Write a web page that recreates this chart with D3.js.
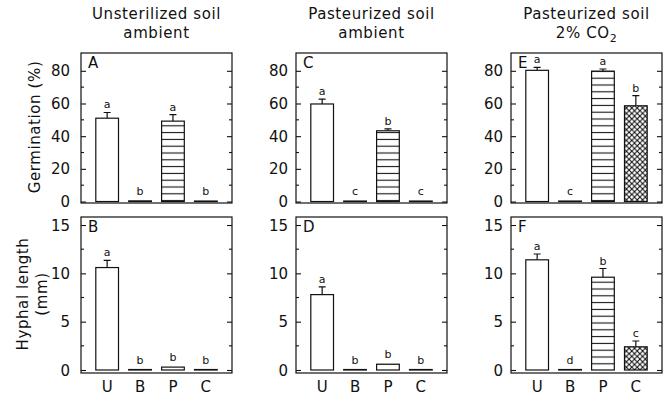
<!DOCTYPE html>
<html>
<head>
<meta charset="utf-8">
<script src="https://cdn.jsdelivr.net/npm/d3@7"></script>
<style>
  body { margin: 0; background: #fff; }
  svg text { font-family: "DejaVu Sans", sans-serif; fill: #111; }
</style>
</head>
<body>
<div id="chart"></div>
<script>
// treatments along the x axis
var treatments = ["U", "B", "P", "C"];

// germination (%) panels A, C, E
var germA = [51, 0.4, 49.2, 0.3], germAErr = [3.5, 0, 4, 0];
var germC = [59.7, 0.3, 43.3, 0.3], germCErr = [3, 0, 1.2, 0];
var germE = [80.3, 0.3, 79.8, 58.6], germEErr = [1.8, 0, 1.3, 6.2];
var germALetters = ["a", "b", "a", "b"];
var germCLetters = ["a", "c", "b", "c"];
var germELetters = ["a", "c", "a", "b"];

// hyphal length (mm) panels B, D, F
var hyphB = [10.6, 0.05, 0.3, 0.05], hyphBErr = [0.75, 0, 0, 0];
var hyphD = [7.8, 0.05, 0.6, 0.05], hyphDErr = [0.8, 0, 0, 0];
var hyphF = [11.4, 0.05, 9.6, 2.4], hyphFErr = [0.6, 0, 0.9, 0.6];
var hyphBLetters = ["a", "b", "b", "b"];
var hyphDLetters = ["a", "b", "b", "b"];
var hyphFLetters = ["a", "d", "b", "c"];

var germTicks = [0, 20, 40, 60, 80], germMinor = [10, 30, 50, 70];
var hyphTicks = [0, 5, 10, 15], hyphMinor = [2.5, 7.5, 12.5];

var titles = [["Unsterilized soil", "ambient"], ["Pasteurized soil", "ambient"], ["Pasteurized soil", "2% CO2"]];
var panelIds = [["A", "C", "E"], ["B", "D", "F"]];

var W = 672, H = 401;
var svg = d3.select("#chart").append("svg").attr("width", W).attr("height", H);

// fill patterns
var defs = svg.append("defs");
var stripes = defs.append("pattern").attr("id", "stripes")
  .attr("patternUnits", "userSpaceOnUse").attr("width", 8).attr("height", 6.8);
stripes.append("rect").attr("width", 8).attr("height", 6.8).attr("fill", "#fff");
stripes.append("line").attr("x1", 0).attr("x2", 8).attr("y1", 3.4).attr("y2", 3.4)
  .attr("stroke", "#111").attr("stroke-width", 1.1);

var hatch = defs.append("pattern").attr("id", "hatch")
  .attr("patternUnits", "userSpaceOnUse").attr("width", 5.4).attr("height", 5.4);
hatch.append("rect").attr("width", 5.4).attr("height", 5.4).attr("fill", "#fff");
hatch.append("path").attr("d", "M0,0L5.4,5.4M5.4,0L0,5.4")
  .attr("stroke", "#111").attr("stroke-width", 1.1);

var fills = ["#fff", "#fff", "url(#stripes)", "url(#hatch)"];

var colX = [81, 296, 511], panelW = 151;
var rows = [
  { top: 53, bottom: 203, domain: [-0.9, 90.9], ticks: germTicks, minor: germMinor,
    data: [[germA, germAErr, germALetters], [germC, germCErr, germCLetters], [germE, germEErr, germELetters]] },
  { top: 217, bottom: 373, domain: [-0.31, 15.83], ticks: hyphTicks, minor: hyphMinor,
    data: [[hyphB, hyphBErr, hyphBLetters], [hyphD, hyphDErr, hyphDLetters], [hyphF, hyphFErr, hyphFLetters]] }
];

rows.forEach(function(row, r) {
  var y = d3.scaleLinear().domain(row.domain).range([row.bottom, row.top]);

  colX.forEach(function(x0, c) {
    var x = d3.scaleBand().domain(treatments).range([x0, x0 + panelW])
      .paddingInner(0.31).paddingOuter(0.45);
    var g = svg.append("g");
    var vals = row.data[c][0], errs = row.data[c][1], lets = row.data[c][2];
    var bars = treatments.map(function(t, i) {
      return { t: t, v: vals[i], e: errs[i], l: lets[i], f: fills[i] };
    });
    // in A and C the C bar is just a blank sliver
    if (c < 2) bars[3].f = "#fff";

    // error bars (up only)
    g.selectAll(".err").data(bars.filter(function(d) { return d.e > 0; })).enter()
      .append("path")
      .attr("d", function(d) {
        var cx = x(d.t) + x.bandwidth() / 2;
        return "M" + cx + "," + y(d.v) + "V" + y(d.v + d.e) + "M" + (cx - 3.5) + "," + y(d.v + d.e) + "H" + (cx + 3.5);
      })
      .attr("stroke", "#111").attr("stroke-width", 1.2).attr("fill", "none");

    g.selectAll(".bar").data(bars).enter().append("rect")
      .attr("x", function(d) { return x(d.t); })
      .attr("width", x.bandwidth())
      .attr("y", function(d) { return y(d.v); })
      .attr("height", function(d) { return Math.max(0.5, y(0) - y(d.v)); })
      .attr("fill", function(d) { return d.f; })
      .attr("stroke", "#111").attr("stroke-width", 1.2);

    g.selectAll(".sig").data(bars).enter().append("text")
      .attr("x", function(d) { return x(d.t) + x.bandwidth() / 2; })
      .attr("y", function(d) { return y(d.v + d.e) - (d.e > 0 ? 4 : 6); })
      .attr("text-anchor", "middle").attr("font-size", 11)
      .text(function(d) { return d.l; });

    // frame
    g.append("rect").attr("x", x0).attr("y", row.top).attr("width", panelW)
      .attr("height", row.bottom - row.top).attr("fill", "none")
      .attr("stroke", "#111").attr("stroke-width", 1.2);

    // y axis with inward ticks on both sides
    var left = g.append("g").attr("transform", "translate(" + x0 + ",0)")
      .call(d3.axisRight(y).tickValues(row.ticks).tickSize(5).tickFormat(""));
    left.selectAll(".minor").data(row.minor).enter().append("line").attr("class", "minor")
      .attr("x1", 0).attr("x2", 3).attr("y1", y).attr("y2", y);
    var right = g.append("g").attr("transform", "translate(" + (x0 + panelW) + ",0)")
      .call(d3.axisLeft(y).tickValues(row.ticks).tickSize(5).tickFormat(""));
    right.selectAll(".minor").data(row.minor).enter().append("line").attr("class", "minor")
      .attr("x1", 0).attr("x2", -3).attr("y1", y).attr("y2", y);
    g.selectAll(".domain").remove();
    g.selectAll("line").attr("stroke", "#111").attr("stroke-width", 1.1);

    g.selectAll(".ylab").data(row.ticks).enter().append("text")
      .attr("x", x0 - (c === 0 ? 11 : 8)).attr("y", function(d) { return y(d) + 5.5; })
      .attr("text-anchor", "end").attr("font-size", 15)
      .text(function(d) { return d; });

    // panel letter
    g.append("text").attr("x", x0 + 7).attr("y", row.top + 15)
      .attr("font-size", 15).text(panelIds[r][c]);

    if (r === 1) {
      g.selectAll(".xlab").data(treatments).enter().append("text")
        .attr("x", function(d) { return x(d) + x.bandwidth() / 2; })
        .attr("y", 392).attr("text-anchor", "middle").attr("font-size", 15)
        .text(function(d) { return d; });
    }
    if (r === 0) {
      var cxp = x0 + panelW / 2;
      g.append("text").attr("x", cxp).attr("y", 19).attr("text-anchor", "middle")
        .attr("font-size", 15).attr("letter-spacing", 0.6).text(titles[c][0]);
      var t2 = g.append("text").attr("x", cxp).attr("y", 38).attr("text-anchor", "middle")
        .attr("font-size", 15).attr("letter-spacing", 0.6);
      if (titles[c][1] === "2% CO2") {
        t2.append("tspan").text("2% CO");
        t2.append("tspan").attr("dy", 4).attr("font-size", 11).text("2");
      } else {
        t2.text(titles[c][1]);
      }
    }
  });
});

// y axis titles
svg.append("text").attr("transform", "translate(40,127) rotate(-90)")
  .attr("text-anchor", "middle").attr("font-size", 15).attr("letter-spacing", 0.6)
  .text("Germination (%)");
svg.append("text").attr("transform", "translate(28,294) rotate(-90)")
  .attr("text-anchor", "middle").attr("font-size", 15).attr("letter-spacing", 0.6)
  .text("Hyphal length");
svg.append("text").attr("transform", "translate(47,294) rotate(-90)")
  .attr("text-anchor", "middle").attr("font-size", 15).attr("letter-spacing", 0.6)
  .text("(mm)");
</script>
</body>
</html>
